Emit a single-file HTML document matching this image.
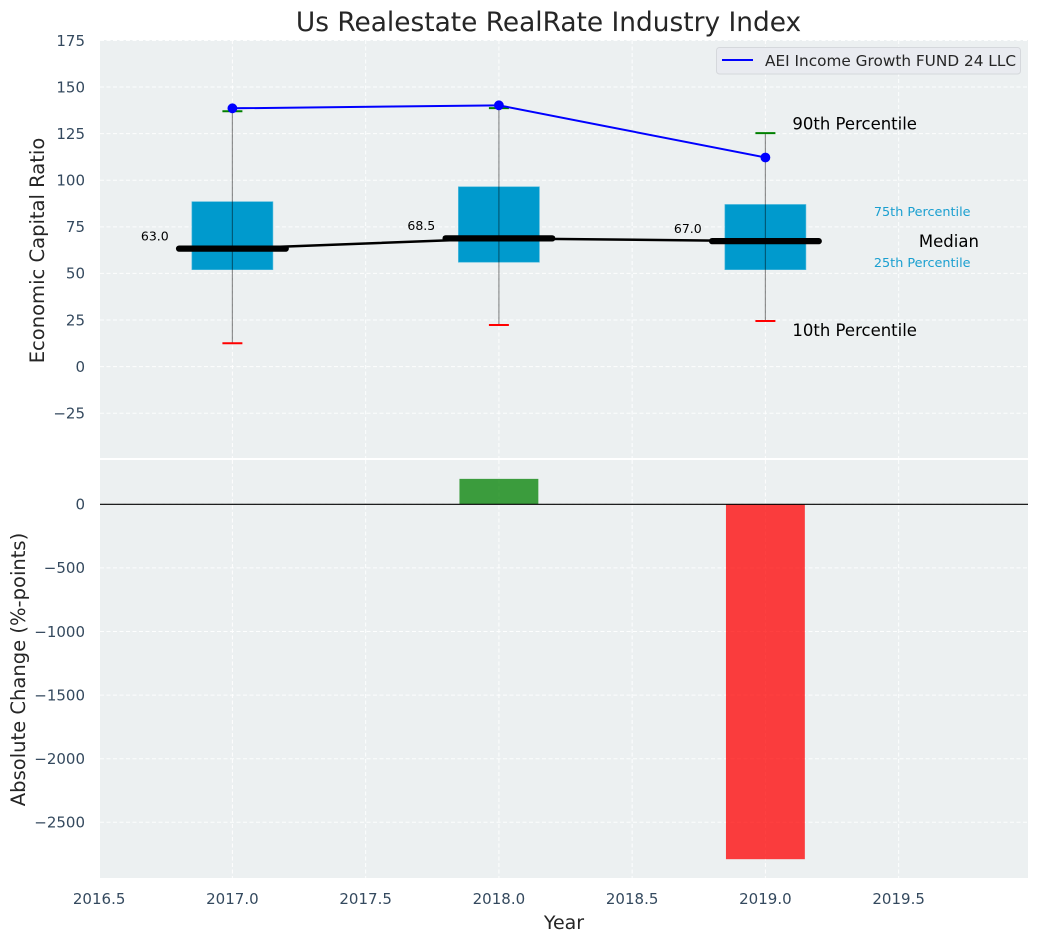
<!DOCTYPE html>
<html>
<head>
<meta charset="utf-8">
<title>Us Realestate RealRate Industry Index</title>
<style>
html,body{margin:0;padding:0;background:#fff;width:1039px;height:942px;overflow:hidden}
svg{display:block}
text{font-family:"DejaVu Sans","Liberation Sans",sans-serif}
</style>
</head>
<body>
<svg id="chart" xmlns="http://www.w3.org/2000/svg" width="1039" height="942" viewBox="0 0 1039 942">
  <rect x="100" y="40" width="928" height="418" fill="#ecf0f1"/>
  <rect x="100" y="460" width="928" height="418" fill="#ecf0f1"/>
  <g id="grid"></g>
  <g id="top"></g>
  <g id="bottom"></g>
  <g id="ticks"></g>
  <text x="548.5" y="31" font-size="26.4" fill="#262626" text-anchor="middle">Us Realestate RealRate Industry Index</text>
  <text x="564" y="929" font-size="19" fill="#262626" text-anchor="middle">Year</text>
  <text transform="translate(44,250.5) rotate(-90)" font-size="19.55" fill="#262626" text-anchor="middle">Economic Capital Ratio</text>
  <text transform="translate(25,669.5) rotate(-90)" font-size="19.55" fill="#262626" text-anchor="middle">Absolute Change (%-points)</text>
  <g>
    <rect x="716.5" y="47.5" width="304" height="26.5" rx="3" fill="#e9ebf0" stroke="#d5d8dc" stroke-width="1"/>
    <line x1="722" y1="60" x2="753" y2="60" stroke="#0000ff" stroke-width="2"/>
    <text x="765" y="66" font-size="15.3" fill="#262626">AEI Income Growth FUND 24 LLC</text>
  </g>
</svg>
<script>
const years = [2017, 2018, 2019];
const q75 = [88.5, 96.5, 87];
const q25 = [52, 56, 52];
const medians = [63, 68.5, 67];
const p90 = [137, 138.7, 125.3];
const p10 = [12.5, 22.3, 24.5];
const fund = [138.6, 140.2, 112.2];
const changes = [200, -2790];
const changeYears = [2018, 2019];
const xTicks = ['2016.5', '2017.0', '2017.5', '2018.0', '2018.5', '2019.0', '2019.5'];
const topTicks = [175, 150, 125, 100, 75, 50, 25, 0, -25];
const bottomTicks = [0, -500, -1000, -1500, -2000, -2500];

const NS = 'http://www.w3.org/2000/svg';
const X = v => 232.4 + (v - 2017) * 266.5;
const Y = v => 366.6 - v * 1.8636;
const Y2 = v => 504.3 - v * 0.1272;
const halfBox = 0.152;
const halfMedian = 0.2;
const halfCap = 0.0375;
const tickSize = 15;
const medianShift = -0.6;

function add(parent, tag, attrs, text) {
  const el = document.createElementNS(NS, tag);
  for (const k in attrs) el.setAttribute(k, attrs[k]);
  if (text !== undefined) el.textContent = text;
  parent.appendChild(el);
  return el;
}
const minus = v => String(v).replace('-', '\u2212');

const grid = document.getElementById('grid');
const topG = document.getElementById('top');
const bottomG = document.getElementById('bottom');
const ticks = document.getElementById('ticks');
const gridStyle = {stroke: '#ffffff', 'stroke-width': 1, 'stroke-dasharray': '4 2.5', 'stroke-opacity': 0.9};

xTicks.forEach(t => {
  const x = X(parseFloat(t));
  const a = add(grid, 'line', Object.assign({x1: x, x2: x, y1: 40, y2: 458}, gridStyle));
  
  
  const b = add(grid, 'line', Object.assign({x1: x, x2: x, y1: 460, y2: 878}, gridStyle));
  
  
  const l = add(ticks, 'text', {x: x, y: 904, 'font-size': tickSize, fill: '#34495e', 'text-anchor': 'middle'}, t);
  
  
});
topTicks.forEach(t => {
  const y = Y(t);
  const a = add(grid, 'line', Object.assign({x1: 100, x2: 1028, y1: y, y2: y}, gridStyle));
  
  
  const l = add(ticks, 'text', {x: 85, y: y + 5.3, 'font-size': tickSize, fill: '#34495e', 'text-anchor': 'end'}, minus(t));
  
  
});
bottomTicks.forEach(t => {
  const y = Y2(t);
  const a = add(grid, 'line', Object.assign({x1: 100, x2: 1028, y1: y, y2: y}, gridStyle));
  
  
  const l = add(ticks, 'text', {x: 85, y: y + 5.3, 'font-size': tickSize, fill: '#34495e', 'text-anchor': 'end'}, minus(t));
  
  
});

years.forEach((yr, i) => {
  const box = add(topG, 'rect', {x: X(yr - halfBox), y: Y(q75[i]), width: X(yr + halfBox) - X(yr - halfBox), height: Y(q25[i]) - Y(q75[i]), fill: '#009acd', stroke: '#4db8dc', 'stroke-width': 0.6});
  
  
});

const medianLine = add(topG, 'polyline', {points: years.map((yr, i) => X(yr) + ',' + (Y(medians[i]) + medianShift)).join(' '), fill: 'none', stroke: '#000000', 'stroke-width': 2.5});



years.forEach((yr, i) => {
  const w = add(topG, 'line', {x1: X(yr), x2: X(yr), y1: Y(p90[i]), y2: Y(p10[i]), stroke: '#000000', 'stroke-opacity': 0.42, 'stroke-width': 1.2});
  
  
  const hi = add(topG, 'line', {x1: X(yr - halfCap), x2: X(yr + halfCap), y1: Y(p90[i]), y2: Y(p90[i]), stroke: '#008000', 'stroke-width': 2});
  
  
  const lo = add(topG, 'line', {x1: X(yr - halfCap), x2: X(yr + halfCap), y1: Y(p10[i]), y2: Y(p10[i]), stroke: '#ff0000', 'stroke-width': 2});
  
  
  const m = add(topG, 'line', {x1: X(yr - halfMedian), x2: X(yr + halfMedian), y1: Y(medians[i]) + medianShift, y2: Y(medians[i]) + medianShift, stroke: '#000000', 'stroke-width': 6.3, 'stroke-linecap': 'round'});
  
  
  const t = add(topG, 'text', {x: X(yr) - 91.5, y: Y(medians[i]) - 8.8, 'font-size': 12.5, fill: '#000000'}, medians[i].toFixed(1));
  
  
});

const fundLine = add(topG, 'polyline', {points: years.map((yr, i) => X(yr) + ',' + Y(fund[i])).join(' '), fill: 'none', stroke: '#0000ff', 'stroke-width': 2});


years.forEach((yr, i) => {
  const c = add(topG, 'circle', {cx: X(yr), cy: Y(fund[i]), r: 4.9, fill: '#0000ff'});
  
  
});

const last = years.length - 1;
const lastX = X(years[last]);
const a90 = add(topG, 'text', {x: lastX + 27, y: Y(p90[last]) - 3.5, 'font-size': 16.5, fill: '#000000'}, '90th Percentile');


const a10 = add(topG, 'text', {x: lastX + 27, y: Y(p10[last]) + 15, 'font-size': 16.5, fill: '#000000'}, '10th Percentile');


const a75 = add(topG, 'text', {x: lastX + 108.5, y: Y(q75[last]) + 11.5, 'font-size': 12.8, fill: '#1a9fd0'}, '75th Percentile');


const a25 = add(topG, 'text', {x: lastX + 108.5, y: Y(q25[last]) - 2.5, 'font-size': 12.8, fill: '#1a9fd0'}, '25th Percentile');


const aMed = add(topG, 'text', {x: lastX + 153.5, y: Y(medians[last]) + 5.3, 'font-size': 16.5, fill: '#000000'}, 'Median');



changeYears.forEach((yr, i) => {
  const v = changes[i];
  const top = Math.min(Y2(0), Y2(v));
  const bar = add(bottomG, 'rect', {x: X(yr - 0.148), y: top, width: X(yr + 0.148) - X(yr - 0.148), height: Math.abs(Y2(v) - Y2(0)), fill: v >= 0 ? '#008000' : '#ff0000', 'fill-opacity': 0.75});
  
  
});
const zero = add(bottomG, 'line', {x1: 100, x2: 1028, y1: Y2(0), y2: Y2(0), stroke: '#000000', 'stroke-width': 1.2});


</script>
</body>
</html>
